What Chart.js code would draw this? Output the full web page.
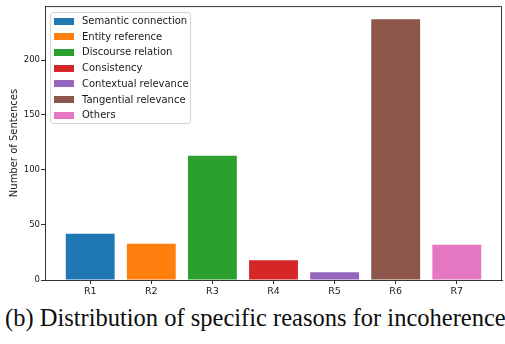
<!DOCTYPE html>
<html lang="en">
<head>
<meta charset="UTF-8">
<title>Distribution of specific reasons for incoherence</title>
<script src="https://cdn.jsdelivr.net/npm/chart.js"></script>
<style>
    body { margin: 0; width: 505px; height: 344px; overflow: hidden; background: #fff; position: relative; }
    #wrap { position: absolute; left: 0; top: 0; width: 505px; height: 300px; }
    .legend {
        position: absolute; left: 50px; top: 12px; width: 139px; height: 110px;
        border: 1px solid #d6d6d6; border-radius: 3px; background: rgba(255,255,255,0.8);
        font-family: "DejaVu Sans", sans-serif; font-size: 10px; color: #1a1a1a;
    }
    .legend-item { position: absolute; left: 3px; height: 12px; line-height: 12px; white-space: nowrap; }
    .legend-color { position: absolute; left: 0; top: 2.5px; width: 20px; height: 7px; }
    .legend-item span { position: absolute; left: 28px; top: 0; }
    .caption {
        position: absolute; left: 5px; top: 304px; white-space: nowrap;
        font-family: "Liberation Serif", "Times New Roman", serif; font-size: 24.5px; color: #0d0d0d;
    }
</style>
</head>
<body>
    <div id="wrap"><canvas id="reasonChart" width="505" height="300"></canvas></div>
    <div class="legend" id="legend"></div>
    <div class="caption">(b) Distribution of specific reasons for incoherence.</div>

<script>
    const categories = ['R1', 'R2', 'R3', 'R4', 'R5', 'R6', 'R7'];
    const reasons = ['Semantic connection', 'Entity reference', 'Discourse relation', 'Consistency',
                     'Contextual relevance', 'Tangential relevance', 'Others'];
    const sentenceCounts = [42, 33, 113, 18, 7, 237, 32];
    const yTicks = [0, 50, 100, 150, 200];
    const colors = ['#1f77b4', '#ff7f0e', '#2ca02c', '#d62728', '#9467bd', '#8c564b', '#e377c2'];

    // top + right spines like matplotlib
    const boxPlugin = {
        id: 'box',
        afterDraw(chart) {
            const { ctx, chartArea: a } = chart;
            ctx.save();
            ctx.strokeStyle = '#333';
            ctx.lineWidth = 1;
            ctx.beginPath();
            ctx.moveTo(a.left, a.top + 0.5);
            ctx.lineTo(a.right - 0.5, a.top + 0.5);
            ctx.lineTo(a.right - 0.5, a.bottom);
            ctx.stroke();
            ctx.restore();
        }
    };

    const datasets = reasons.map((name, i) => ({
        label: name,
        data: [{ x: i, y: sentenceCounts[i] }],
        backgroundColor: colors[i],
        borderWidth: 0,
        barPercentage: 1,
        categoryPercentage: 0.8,
        grouped: false
    }));

    new Chart(document.getElementById('reasonChart').getContext('2d'), {
        type: 'bar',
        data: { datasets },
        options: {
            responsive: false,
            animation: false,
            devicePixelRatio: 1,
            layout: { padding: { top: 6, right: 3, left: 0, bottom: 0 } },
            plugins: { legend: { display: false }, tooltip: { enabled: false } },
            scales: {
                x: {
                    type: 'linear',
                    offset: false,
                    min: -0.74,
                    max: 6.74,
                    afterBuildTicks: axis => { axis.ticks = categories.map((_, i) => ({ value: i })); },
                    afterFit: axis => { axis.height = 20; },
                    grid: { drawOnChartArea: false, offset: false, tickLength: 4, tickColor: '#333' },
                    border: { color: '#333', width: 1 },
                    ticks: {
                        autoSkip: false, maxRotation: 0, padding: 2,
                        color: '#1a1a1a',
                        font: { family: 'DejaVu Sans', size: 9.5 },
                        callback: v => categories[v]
                    }
                },
                y: {
                    min: 0,
                    max: 249,
                    afterBuildTicks: axis => { axis.ticks = yTicks.map(v => ({ value: v })); },
                    afterFit: axis => { axis.width = 45; },
                    grid: { drawOnChartArea: false, tickLength: 4, tickColor: '#333' },
                    border: { color: '#333', width: 1 },
                    ticks: { padding: 1, color: '#1a1a1a', font: { family: 'DejaVu Sans', size: 8.5 } },
                    title: {
                        display: true, text: 'Number of Sentences', color: '#1a1a1a',
                        font: { family: 'DejaVu Sans', size: 10 },
                        padding: { top: 8, bottom: 0 }
                    }
                }
            }
        },
        plugins: [boxPlugin]
    });

    // legend box in the upper-left of the plot
    const legend = document.getElementById('legend');
    reasons.forEach((name, i) => {
        const row = document.createElement('div');
        row.className = 'legend-item';
        row.style.top = (2 + i * 15.7) + 'px';
        row.innerHTML = `<div class="legend-color" style="background:${colors[i]}"></div><span>${name}</span>`;
        legend.appendChild(row);
    });
</script>
</body>
</html>
